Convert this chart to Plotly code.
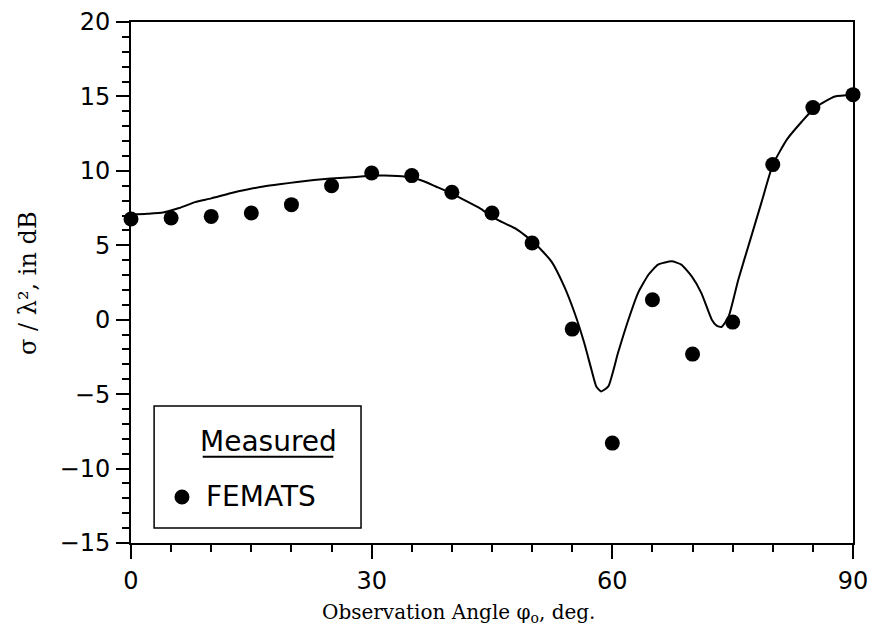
import plotly.graph_objects as go

# Measured (FEMATS) points
meas_angle = [0, 5, 10, 15, 20, 25, 30, 35, 40, 45, 50, 55, 60, 65, 70, 75, 80, 85, 90]
meas_db = [6.77, 6.83, 6.94, 7.17, 7.73, 9.0, 9.86, 9.68, 8.56, 7.17, 5.15,
           -0.63, -8.29, 1.34, -2.31, -0.16, 10.42, 14.25, 15.12]

# Computed curve
curve_angle = [0, 2, 4, 6, 8, 10, 12.4, 14.5, 16.5, 18.5, 20.7, 22.8, 24.9, 27, 29, 31,
               33.2, 35, 36.5, 38, 39.5, 41.5, 43.6, 45.7, 48, 50.2, 52.4, 54.0, 55.3,
               56.5, 57.4, 58.0, 58.6, 59.5, 60.7, 62.0, 63.2, 64.5, 65.7, 67.4, 68.6,
               69.9, 71.1, 72.4, 73.0, 73.6, 74.5, 75.7, 77.2, 78.6, 80, 81.75, 83.6,
               85.25, 87.75, 90]
curve_db = [7.06, 7.12, 7.21, 7.5, 7.9, 8.15, 8.5, 8.75, 8.95, 9.1, 9.25, 9.38, 9.48,
            9.55, 9.63, 9.68, 9.66, 9.55, 9.3, 8.95, 8.6, 8.05, 7.45, 6.7, 6.1, 5.2,
            3.92, 2.24, 0.45, -1.57, -3.36, -4.48, -4.82, -4.48, -2.24, 0.0, 1.79,
            3.02, 3.70, 3.92, 3.70, 2.91, 1.79, 0.0, -0.4, -0.49, 0.22, 2.69, 5.38,
            7.9, 10.4, 12.1, 13.3, 14.25, 15.0, 15.1]

x_ticks = [0, 30, 60, 90]
y_ticks = [-15, -10, -5, 0, 5, 10, 15, 20]

fig = go.Figure()
fig.add_trace(go.Scatter(x=curve_angle, y=curve_db, mode="lines",
                         line=dict(color="black", width=2, shape="spline", smoothing=0.5),
                         showlegend=False, cliponaxis=False))
fig.add_trace(go.Scatter(x=meas_angle, y=meas_db, mode="markers", name="FEMATS",
                         marker=dict(color="black", size=15),
                         showlegend=False, cliponaxis=False))

tick_font = dict(family="DejaVu Sans, sans-serif", size=24, color="black")
common = dict(ticks="outside", tickwidth=1.5, tickcolor="black", showline=True,
              linecolor="black", linewidth=2, mirror=True, showgrid=False,
              zeroline=False, tickfont=tick_font, ticklabelstandoff=1,
              automargin=False)
fig.update_xaxes(range=[0, 90], tickvals=x_ticks, ticklen=14,
                 minor=dict(dtick=5, ticks="outside", ticklen=7, tickwidth=1.5,
                            tickcolor="black", showgrid=False), **common)
fig.update_yaxes(range=[-15, 20], tickvals=y_ticks, ticklen=13,
                 minor=dict(dtick=1, ticks="outside", ticklen=7, tickwidth=1.5,
                            tickcolor="black", showgrid=False), **common)

xtitle_font = dict(family="DejaVu Serif, serif", size=20, color="black")
ytitle_font = dict(family="DejaVu Serif, serif", size=24, color="black")
legend_font = dict(family="DejaVu Sans, sans-serif", size=28, color="black")

fig.update_layout(
    width=871, height=633,
    margin=dict(l=131, r=18, t=22, b=90),
    paper_bgcolor="white", plot_bgcolor="white",
    showlegend=False,
    annotations=[
        dict(text="Observation Angle φ<sub>o</sub>, deg.", xref="paper", yref="paper",
             x=0.453, y=-0.134, showarrow=False, font=xtitle_font,
             xanchor="center", yanchor="middle"),
        dict(text="σ / λ², in dB", xref="paper", yref="paper",
             x=-0.1427, y=0.499, showarrow=False, font=ytitle_font, textangle=-90,
             xanchor="center", yanchor="middle"),
        dict(text="Measured", xref="paper", yref="paper", x=0.1898, y=0.1939,
             showarrow=False, font=legend_font, xanchor="center", yanchor="middle"),
        dict(text="FEMATS", xref="paper", yref="paper", x=0.1011, y=0.0883,
             showarrow=False, font=legend_font, xanchor="left", yanchor="middle"),
    ],
    shapes=[
        dict(type="rect", xref="paper", yref="paper", x0=0.032, x1=0.3186,
             y0=0.0288, y1=0.263, line=dict(color="black", width=1.5),
             fillcolor="rgba(0,0,0,0)", layer="above"),
        dict(type="line", xref="paper", yref="paper", x0=0.0993, x1=0.2802,
             y0=0.1656, y1=0.1656, line=dict(color="black", width=2)),
        dict(type="circle", xref="paper", yref="paper", x0=0.0706 - 0.0104,
             x1=0.0706 + 0.0104, y0=0.0883 - 0.0144, y1=0.0883 + 0.0144,
             fillcolor="black", line=dict(color="black", width=0)),
    ],
)

fig.write_html("out.html", config={"displayModeBar": False},
               post_script="document.body.style.margin='0px';document.body.style.padding='0px';")
